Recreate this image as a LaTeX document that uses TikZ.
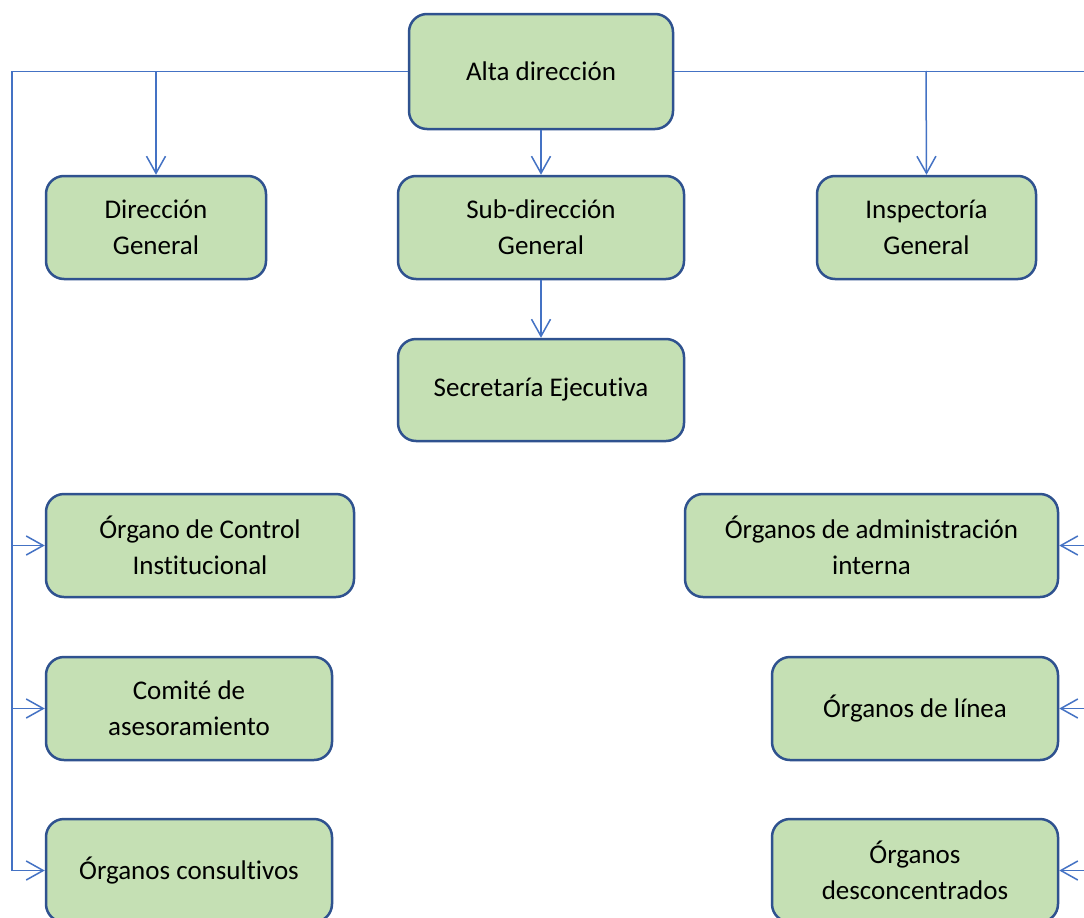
\documentclass[tikz,border=0pt]{standalone}
\usepackage{fontspec}
\setmainfont[Ligatures={NoCommon}]{Carlito}
\usetikzlibrary{arrows.meta}
\definecolor{boxfill}{HTML}{C5E0B4}
\definecolor{boxline}{HTML}{2F528F}
\definecolor{connc}{HTML}{4472C4}
\tikzset{
  unitbox/.style={draw=boxline, line width=2.5pt, fill=boxfill, rounded corners=18pt,
    align=center, inner sep=0pt, font=\fontsize{27}{36}\selectfont},
  conn/.style={draw=connc, line width=1.5pt},
  arr/.style={conn, -{Straight Barb[length=17pt,width=19pt,line width=1.5pt]}}
}
\begin{document}
\begin{tikzpicture}[x=1pt,y=-1pt]
\clip (0,0) rectangle (1084,918);
\fill[white] (0,0) rectangle (1084,918);
% boxes
\node[unitbox, minimum width=264pt, minimum height=115pt] (alta) at (541,71.5) {Alta dirección};
\node[unitbox, minimum width=220pt, minimum height=103pt] (dg) at (156,227.5) {Dirección\\General};
\node[unitbox, minimum width=286pt, minimum height=103pt] (sdg) at (541,227.5) {Sub-dirección\\General};
\node[unitbox, minimum width=219pt, minimum height=103pt] (ig) at (926.5,227.5) {Inspectoría\\General};
\node[unitbox, minimum width=286pt, minimum height=102pt] (se) at (541,390) {Secretaría Ejecutiva};
\node[unitbox, minimum width=308pt, minimum height=103pt] (oci) at (200,545.5) {Órgano de Control\\Institucional};
\node[unitbox, minimum width=373pt, minimum height=103pt] (oai) at (871.5,545.5) {Órganos de administración\\interna};
\node[unitbox, minimum width=286pt, minimum height=103pt] (ca) at (189,708.5) {Comité de\\asesoramiento};
\node[unitbox, minimum width=286pt, minimum height=103pt] (ol) at (915,708.5) {Órganos de línea};
\node[unitbox, minimum width=286pt, minimum height=103pt] (oc) at (189,870.5) {Órganos consultivos};
\node[unitbox, minimum width=286pt, minimum height=103pt] (od) at (915,870.5) {Órganos\\desconcentrados};
% junction coordinates
\coordinate (T1) at (156,71);
\coordinate (T3) at (926,71);
\coordinate (L1) at (12,545.5);
\coordinate (L2) at (12,708.5);
\coordinate (L3) at (12,870.5);
\coordinate (R1) at (1094,545.5);
\coordinate (R2) at (1094,708.5);
\coordinate (R3) at (1094,870.5);
% connectors
\draw[arr] (alta.west) -| (L3) -- (oc.west);
\draw[arr] (L1) -- (oci.west);
\draw[arr] (L2) -- (ca.west);
\draw[arr] (alta.east) -| (R3) -- (od.east);
\draw[arr] (R1) -- (oai.east);
\draw[arr] (R2) -- (ol.east);
\draw[arr] (T1) -- (dg.north);
\draw[arr] (T3) -- (ig.north);
\draw[arr] (alta.south) -- (sdg.north);
\draw[arr] (sdg.south) -- (se.north);
\end{tikzpicture}
\end{document}
